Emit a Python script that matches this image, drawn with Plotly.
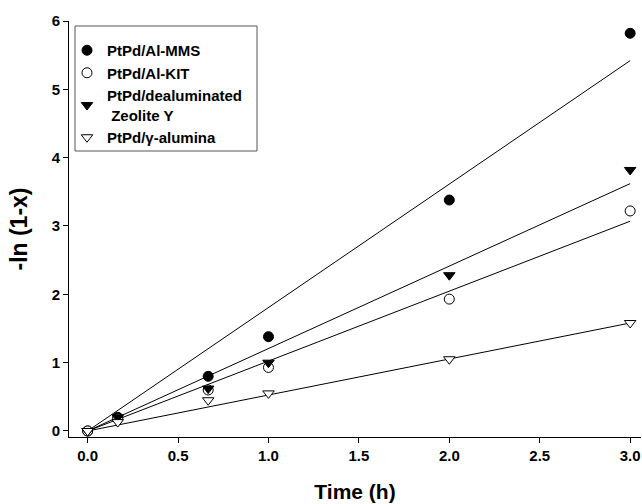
import plotly.graph_objects as go

time_h = [0, 0.1667, 0.6667, 1.0, 2.0, 3.0]
mms = [0.0, 0.20, 0.80, 1.38, 3.38, 5.82]
kit = [0.0, 0.18, 0.60, 0.93, 1.93, 3.22]
zeoy = [0.0, 0.20, 0.62, 1.00, 2.28, 3.82]
alumina = [0.0, 0.13, 0.45, 0.55, 1.05, 1.58]

fit_x = [0.0, 3.0]
fit_mms = [0.0, 5.42]
fit_kit = [0.0, 3.07]
fit_zeoy = [0.0, 3.62]
fit_alumina = [0.0, 1.58]

fig = go.Figure()
for yfit in [fit_mms, fit_kit, fit_zeoy, fit_alumina]:
    fig.add_trace(go.Scatter(x=fit_x, y=yfit, mode="lines", line=dict(color="black", width=1),
                             showlegend=False, hoverinfo="skip", cliponaxis=False))

series = [
    ("PtPd/Al-MMS", mms, "circle", "black"),
    ("PtPd/Al-KIT", kit, "circle", "white"),
    ("PtPd/dealuminated<br>\u00a0Zeolite Y", zeoy, "triangle-down", "black"),
    ("PtPd/\u03b3-alumina", alumina, "triangle-down", "white"),
]
for name, vals, sym, fill in series:
    fig.add_trace(go.Scatter(x=time_h, y=vals, mode="markers", name=name, cliponaxis=False,
                             marker=dict(symbol=sym, size=10, color=fill,
                                         line=dict(color="black", width=1))))

# plot area in page pixels: x 69..641, y 21..437
PX0, PW, PY1, PH = 69, 572, 437, 416


def px(xp):
    return (xp - PX0) / PW


def py(yp):
    return (PY1 - yp) / PH


font_family = "Liberation Sans, Arial, sans-serif"
fig.update_layout(
    width=642, height=504,
    margin=dict(l=69, r=1, t=21, b=67),
    paper_bgcolor="white", plot_bgcolor="white",
    font=dict(family=font_family, color="black"),
    shapes=[dict(type="rect", xref="paper", yref="paper",
                 x0=px(75), x1=px(257), y0=py(151), y1=py(26),
                 line=dict(color="#555555", width=1), fillcolor="rgba(0,0,0,0)")],
    legend=dict(x=px(67), y=py(34), xanchor="left", yanchor="top",
                borderwidth=0, bgcolor="rgba(0,0,0,0)",
                font=dict(size=15, family=font_family, weight="bold"),
                tracegroupgap=0),
    xaxis=dict(range=[-0.103, 3.060], tickvals=[0, 0.5, 1, 1.5, 2, 2.5, 3],
               tickformat=".1f", ticks="outside", ticklen=5, tickcolor="black",
               showline=True, linecolor="black", linewidth=1, showgrid=False, zeroline=False,
               automargin=False,
               tickfont=dict(size=15, weight="bold"),
               title=dict(text="Time (h)", font=dict(size=21, weight="bold"), standoff=21)),
    yaxis=dict(range=[-0.088, 6.0], tickvals=[0, 1, 2, 3, 4, 5, 6],
               ticks="outside", ticklen=5, tickcolor="black",
               showline=True, linecolor="black", linewidth=1, showgrid=False, zeroline=False,
               automargin=False,
               tickfont=dict(size=15, weight="bold"),
               title=dict(text="-ln (1-x)", font=dict(size=23, weight="bold"), standoff=17)),
)
fig.write_html("out.html", config={"displayModeBar": False},
               post_script="document.body.style.margin='0';document.body.style.overflow='hidden';")
